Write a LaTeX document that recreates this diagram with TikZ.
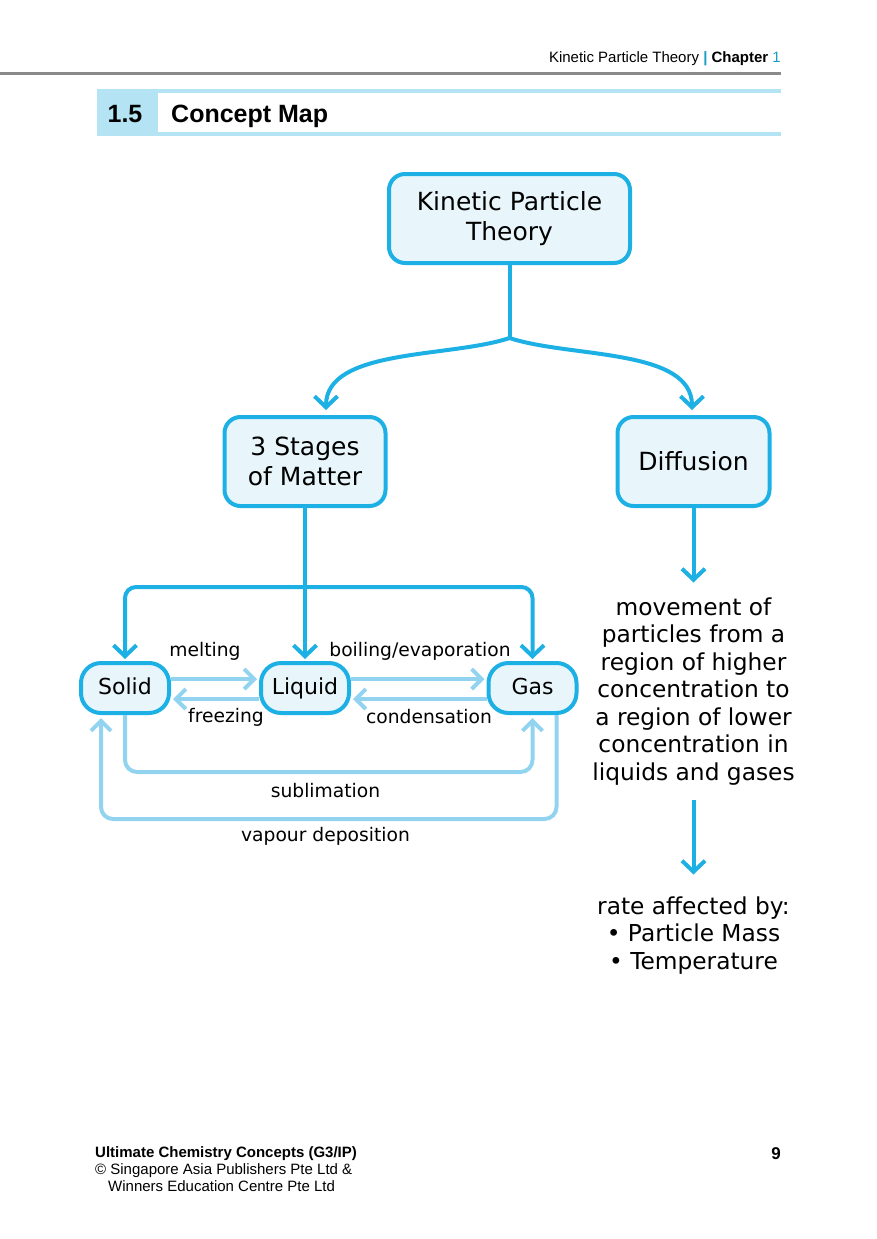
\documentclass[tikz,border=0pt]{standalone}
\usepackage{fontspec}
\setmainfont{Liberation Sans}
\newfontfamily\handfont{DejaVu Sans}
\usetikzlibrary{arrows.meta,calc}
\definecolor{mainblue}{HTML}{1CB0E4}
\definecolor{lightarrow}{HTML}{92D4F0}
\definecolor{boxfill}{HTML}{E8F6FC}
\definecolor{barblue}{HTML}{B4E3F3}
\definecolor{headteal}{HTML}{1A9CC4}
\definecolor{rulegray}{HTML}{8A8A8A}
\begin{document}
\begin{tikzpicture}[x=1pt,y=-1pt,
  conceptbox/.style={draw=mainblue,line width=4pt,fill=boxfill,rounded corners=16pt,
    inner sep=0pt,align=center,font=\handfont\fontsize{25}{30}\selectfont},
  statebox/.style={draw=mainblue,line width=4pt,fill=boxfill,rounded corners=20pt,
    inner sep=0pt,minimum width=88pt,minimum height=50pt,text height=16pt,text depth=4pt,
    font=\handfont\fontsize{22}{26}\selectfont},
  mainline/.style={draw=mainblue,line width=4pt},
  mainarrow/.style={mainline,-{Straight Barb[length=11pt,width=23pt]}},
  lightarrow/.style={draw=lightarrow,line width=4pt,-{Straight Barb[length=10pt,width=20pt]}},
  lbl/.style={font=\handfont\fontsize{18.7}{22}\selectfont,inner sep=0pt},
  desctext/.style={font=\handfont\fontsize{23.3}{27.5}\selectfont,align=center,inner sep=0pt}]
\useasboundingbox (0,0) rectangle (876,1239);

% header
\node[anchor=base east,inner sep=0pt,font=\fontsize{15}{18}\selectfont] (head) at (781,62.5)
  {Kinetic Particle Theory {\bfseries\color{headteal}|} \textbf{Chapter} {\color{headteal}1}};
\draw[rulegray,line width=2pt] (0,73.5) -- (781,73.5);

% title bar
\fill[barblue] (97,89) rectangle (158,136);
\fill[barblue] (158,89) rectangle (781,93);
\fill[barblue] (158,132) rectangle (781,136);
\node[anchor=base,inner sep=0pt,font=\bfseries\fontsize{25}{30}\selectfont] (secnum) at (125,122) {1.5};
\node[anchor=base west,inner sep=0pt,font=\bfseries\fontsize{25}{30}\selectfont] (sectitle) at (171,122) {Concept Map};

% concept boxes
\node[conceptbox,minimum width=241pt,minimum height=89pt] (kpt) at (509.5,218.5) {Kinetic Particle\\Theory};
\node[conceptbox,minimum width=161pt,minimum height=89pt] (stages) at (305,461.5) {3 Stages\\of Matter};
\node[conceptbox,minimum width=152pt,minimum height=89pt] (diff) at (693.5,461.5) {Diffusion};

% state boxes
\node[statebox] (solid) at (125,688) {Solid};
\node[statebox] (liquid) at (305,688) {Liquid};
\node[statebox] (gas) at (532.5,688) {Gas};

% split from KPT
\coordinate (junc) at (509.5,338);
\coordinate (tipL) at (326,410);
\coordinate (tipR) at (692,410);
\draw[mainline] (kpt.south) -- (junc);
\draw[mainarrow] (junc) .. controls (450,358) and (326,348) .. (tipL);
\draw[mainarrow] (junc) .. controls (570,358) and (692,348) .. (tipR);

% from 3 stages to states
\coordinate (bus) at (305,587);
\draw[mainarrow,shorten >=2pt] (stages.south) -- (liquid.north);
\draw[mainarrow,rounded corners=11pt,shorten >=2pt] (bus) -| (solid.north);
\draw[mainarrow,rounded corners=11pt,shorten >=2pt] (bus) -| (gas.north);

% phase change arrows
\draw[lightarrow,shorten >=2pt] ($(solid.east)+(0,-9)$) -- ($(liquid.west)+(0,-9)$);
\draw[lightarrow,shorten >=2pt] ($(liquid.west)+(0,11)$) -- ($(solid.east)+(0,11)$);
\draw[lightarrow,shorten >=2pt] ($(liquid.east)+(0,-9)$) -- ($(gas.west)+(0,-9)$);
\draw[lightarrow,shorten >=2pt] ($(gas.west)+(0,11)$) -- ($(liquid.east)+(0,11)$);
\coordinate (subl) at (532.5,772);
\coordinate (vapd) at (101,819);
\draw[lightarrow,rounded corners=12pt,shorten >=3pt] (solid.south) |- (subl) -- (gas.south);
\draw[lightarrow,rounded corners=12pt,shorten >=3pt] ($(gas.south)+(24,0)$) |- (vapd) -- ($(solid.south)+(-24,0)$);

\node[lbl] (melt) at (205,651) {melting};
\node[lbl] (boil) at (420,651) {boiling/evaporation};
\node[lbl] (freeze) at (226,717) {freezing};
\node[lbl] (cond) at (429,717) {condensation};
\node[lbl] (sublbl) at (325.5,791) {sublimation};
\node[lbl] (vaplbl) at (325.5,836) {vapour deposition};

% diffusion column
\node[desctext,anchor=north] (desc) at (693.5,597.5)
  {movement of\\particles from a\\region of higher\\concentration to\\a region of lower\\concentration in\\liquids and gases};
\node[desctext,anchor=north] (rate) at (693.5,896.5)
  {rate affected by:\\• Particle Mass\\• Temperature};
\draw[mainarrow] (diff.south) -- ([yshift=15pt]desc.north);
\draw[mainarrow,shorten <=15pt,shorten >=22pt] (desc.south) -- (rate.north);

% footer
\node[anchor=base west,inner sep=0pt,font=\bfseries\fontsize{15}{18}\selectfont] (foot1) at (95,1157.5) {Ultimate Chemistry Concepts (G3/IP)};
\node[anchor=base west,inner sep=0pt,font=\fontsize{15}{18}\selectfont] (foot2) at (95,1174.5) {© Singapore Asia Publishers Pte Ltd \&};
\node[anchor=base west,inner sep=0pt,font=\fontsize{15}{18}\selectfont] (foot3) at (108,1191.5) {Winners Education Centre Pte Ltd};
\node[anchor=base,inner sep=0pt,font=\bfseries\fontsize{17}{20}\selectfont] (pagenum) at (776,1159) {9};
\end{tikzpicture}
\end{document}
